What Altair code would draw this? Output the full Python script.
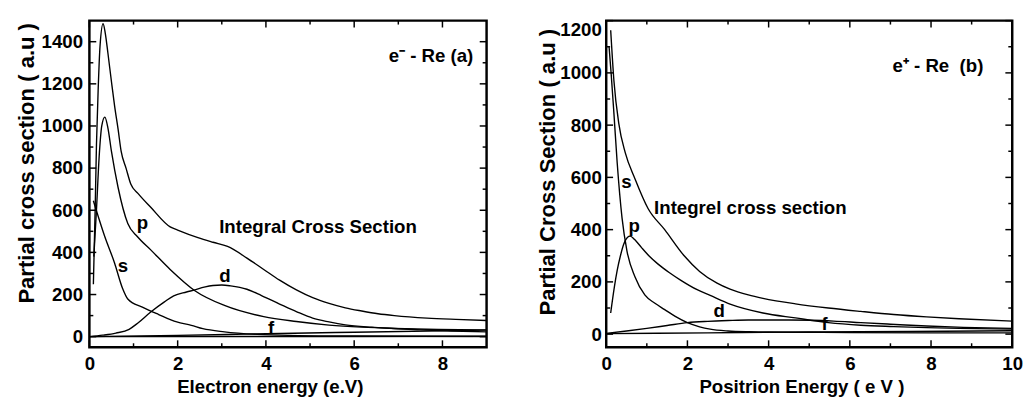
import altair as alt
import pandas as pd

FONT = "Liberation Sans"
FS = 19
YT_FS = 22.5

# ---------------- Panel (a): e- - Re ----------------
a_int_x = [0.09, 0.13, 0.16, 0.20, 0.24, 0.31, 0.36, 0.42, 0.50, 0.57, 0.65, 0.72, 0.83, 0.94, 1.10, 1.39, 1.83, 2.00, 2.46, 2.80, 3.13, 3.57, 3.95, 4.31, 4.69, 5.06, 5.43, 5.80, 6.17, 6.54, 6.91, 7.65, 8.30, 9.00]
a_int_y = [249, 600, 910, 1180, 1376, 1485, 1440, 1345, 1210, 1097, 985, 879, 800, 723, 680, 614, 521, 506, 470, 448, 428, 373, 319, 268, 222, 185, 158, 137, 122, 109, 100, 88, 82, 77]

a_p_x = [0.10, 0.16, 0.22, 0.28, 0.35, 0.42, 0.50, 0.65, 0.87, 1.09, 1.39, 1.83, 2.39, 3.06, 3.95, 4.69, 5.43, 6.17, 6.91, 7.65, 9.00]
a_p_y = [380, 600, 850, 1000, 1042, 990, 879, 708, 537, 474, 412, 319, 218, 148, 95, 72, 55, 45, 39, 35, 32]

a_s_x = [0.09, 0.35, 0.57, 0.75, 0.87, 1.20, 1.57, 1.98, 2.31, 2.57, 3.06, 3.80, 4.50, 6.00, 9.00]
a_s_y = [645, 474, 350, 230, 179, 140, 105, 70, 54, 38, 23, 11, 6, 3, 1]

a_d_x = [0.00, 0.30, 0.60, 0.90, 1.10, 1.39, 1.70, 1.91, 2.20, 2.39, 2.60, 2.80, 3.00, 3.20, 3.57, 3.90, 4.31, 4.70, 5.06, 5.43, 5.80, 6.40, 6.91, 7.50, 8.20, 9.00]
a_d_y = [0, 7, 17, 35, 65, 117, 165, 194, 212, 222, 235, 243, 245, 241, 225, 195, 155, 118, 88, 70, 56, 45, 39, 32, 27, 23]

a_f_x = [0.0, 2.0, 4.0, 6.0, 9.0]
a_f_y = [0, 6, 14, 21, 31]

a_g_x = [0.0, 3.0, 6.0, 9.0]
a_g_y = [0, 1, 1, 2]

a_lab_text = ["e\u207b - Re (a)", "p", "s", "d", "f", "Integral Cross Section"]
a_lab_x = [7.74, 1.20, 0.76, 3.07, 4.12, 5.18]
a_lab_y = [1331, 538, 333, 286, 39, 519]

a_x_major = [0, 2, 4, 6, 8]
a_x_minor = [1, 3, 5, 7]
a_y_major = [0, 200, 400, 600, 800, 1000, 1200, 1400]
a_y_minor = [100, 300, 500, 700, 900, 1100, 1300]

# ---------------- Panel (b): e+ - Re ----------------
b_int_x = [0.11, 0.19, 0.31, 0.47, 0.71, 1.03, 1.44, 1.92, 2.30, 2.73, 3.05, 3.50, 3.86, 4.66, 5.47, 6.27, 7.08, 7.89, 8.69, 10.0]
b_int_y = [1163, 969, 806, 694, 594, 481, 400, 300, 240, 195, 172, 150, 137, 116, 100, 87, 75, 66, 59, 50]

b_s_x = [0.07, 0.12, 0.19, 0.27, 0.39, 0.51, 0.71, 0.95, 1.20, 1.44, 1.70, 2.00, 2.30, 2.56, 3.00, 3.50, 4.00, 5.00, 6.00, 8.00, 10.0]
b_s_y = [1100, 1000, 844, 656, 444, 319, 219, 150, 118, 94, 68, 44, 28, 19, 12, 9, 8, 7, 6, 5, 5]

b_p_x = [0.11, 0.20, 0.27, 0.35, 0.43, 0.52, 0.59, 0.70, 0.87, 1.05, 1.27, 1.55, 1.84, 2.24, 2.56, 3.05, 3.86, 4.66, 5.47, 6.27, 7.08, 7.89, 8.69, 10.0]
b_p_y = [81, 180, 244, 300, 344, 370, 375, 362, 331, 300, 269, 236, 206, 170, 148, 115, 81, 62, 44, 34, 29, 25, 22, 19]

b_d_x = [0.0, 0.5, 1.0, 1.5, 2.0, 2.5, 3.0, 3.5, 4.0, 4.5, 5.07, 5.6, 6.27, 7.0, 7.89, 8.8, 10.0]
b_d_y = [3, 12, 22, 33, 44, 49, 52, 54, 54, 54, 53, 50, 44, 38, 31, 26, 22]

b_f_x = [0.0, 2.5, 5.0, 7.5, 10.0]
b_f_y = [2, 5, 8, 10, 13]

b_lab_text = ["e\u207a - Re\u00a0 (b)", "s", "Integrel cross section", "p", "d", "f"]
b_lab_x = [8.17, 0.50, 3.55, 0.69, 2.78, 5.38]
b_lab_y = [1025, 581, 481, 412, 87, 37]

b_x_major = [0, 2, 4, 6, 8, 10]
b_x_minor = [1, 3, 5, 7, 9]
b_y_major = [0, 200, 400, 600, 800, 1000, 1200]
b_y_minor = [100, 300, 500, 700, 900, 1100]

MAJ = 7   # inward tick length, px
MIN = 4


def long_table(series):
    rows = []
    for name, xs, ys in series:
        for x, y in zip(xs, ys):
            rows.append({"series": name, "x": x, "y": y})
    return pd.DataFrame(rows)


def panel(series, lab_text, lab_x, lab_y, xdom, ydom, xmaj, xmin, ymaj, ymin,
          W, H, xtitle, ytitle, xtitle_x, ytitle_y, ylab_pad, ytitle_pad):
    xs = alt.Scale(domain=xdom, nice=False, zero=False)
    ys = alt.Scale(domain=ydom, nice=False, zero=False)
    common = dict(
        labelFont=FONT, labelFontSize=FS, labelFontWeight="bold", labelColor="black",
        titleFont=FONT, titleFontWeight="bold", titleColor="black",
        ticks=False, domain=False, grid=False, format="d", labelOverlap=False,
    )
    xaxis = alt.Axis(values=xmaj, title=xtitle, labelPadding=8,
                     titleFontSize=FS, titleX=xtitle_x, titleY=46, titleBaseline="alphabetic",
                     labelFlush=False, **common)
    yaxis = alt.Axis(values=ymaj, title=ytitle, labelPadding=ylab_pad, labelFlush=True,
                     titlePadding=ytitle_pad, titleFontSize=YT_FS, titleY=ytitle_y, **common)

    lines = alt.Chart(long_table(series)).mark_line(
        interpolate="monotone", color="black", strokeWidth=1.4, clip=True
    ).encode(
        x=alt.X("x:Q", scale=xs, axis=xaxis),
        y=alt.Y("y:Q", scale=ys, axis=yaxis),
        detail="series:N",
    )

    labels = alt.Chart(pd.DataFrame({"t": lab_text, "x": lab_x, "y": lab_y})).mark_text(
        font=FONT, fontSize=FS, fontWeight="bold", color="black", align="center", baseline="middle"
    ).encode(
        x=alt.X("x:Q", scale=xs, axis=xaxis),
        y=alt.Y("y:Q", scale=ys, axis=yaxis),
        text="t:N",
    )

    layers = [lines, labels]
    for vals, L in ((xmaj, MAJ), (xmin, MIN)):
        df = pd.DataFrame({"x": vals})
        for y0, y1 in ((0, L), (H, H - L)):
            layers.append(alt.Chart(df).mark_rule(color="black", strokeWidth=1.5).encode(
                x=alt.X("x:Q", scale=xs, axis=xaxis), y=alt.value(y0), y2=alt.value(y1)))
    for vals, L in ((ymaj, MAJ), (ymin, MIN)):
        df = pd.DataFrame({"y": vals})
        for x0, x1 in ((0, L), (W, W - L)):
            layers.append(alt.Chart(df).mark_rule(color="black", strokeWidth=1.5).encode(
                y=alt.Y("y:Q", scale=ys, axis=yaxis), x=alt.value(x0), x2=alt.value(x1)))

    return alt.layer(*layers).properties(width=W, height=H)


pa = panel(
    [("Integral", a_int_x, a_int_y), ("p", a_p_x, a_p_y), ("s", a_s_x, a_s_y),
     ("d", a_d_x, a_d_y), ("f", a_f_x, a_f_y), ("g", a_g_x, a_g_y)],
    a_lab_text, a_lab_x, a_lab_y, [0, 9], [-50, 1500],
    a_x_major, a_x_minor, a_y_major, a_y_minor,
    405, 333, "Electron energy (e.V)", "Partial cross section ( a.u )", 184, 145, 7, 3)

pb = panel(
    [("Integral", b_int_x, b_int_y), ("s", b_s_x, b_s_y), ("p", b_p_x, b_p_y),
     ("d", b_d_x, b_d_y), ("f", b_f_x, b_f_y)],
    b_lab_text, b_lab_x, b_lab_y, [0, 10], [-50, 1200],
    b_x_major, b_x_minor, b_y_major, b_y_minor,
    414, 333, "Positrion Energy ( e V )", "Partial Cross Section ( a.u )", 199, 154, 5, 0)

chart = alt.hconcat(pa, pb, spacing=48).properties(
    padding={"left": 6, "top": 7, "right": 0, "bottom": 0}
).configure(background="white").configure_view(stroke="black", strokeWidth=2.5)

chart.save("out.html", embed_options={"renderer": "svg", "actions": False})
